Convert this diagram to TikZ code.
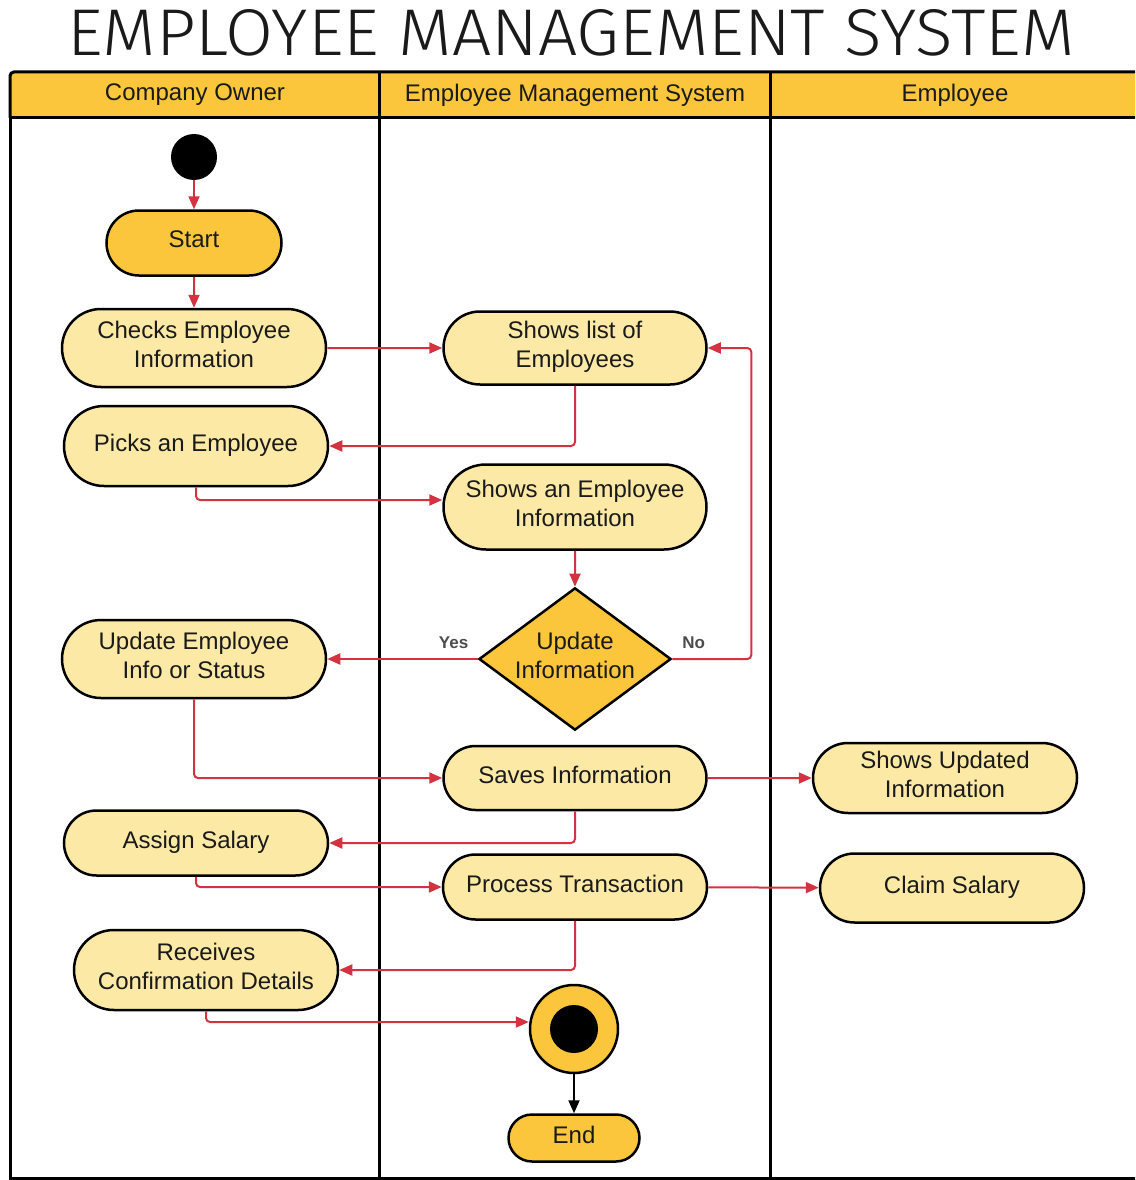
\documentclass[tikz,border=0pt]{standalone}
\usepackage{fontspec}
\setmainfont{Liberation Sans}
\IfFontExistsTF{Fira Sans Light}{\newfontfamily\titlefont{Fira Sans Light}}{%
  \IfFontExistsTF{Lato Light}{\newfontfamily\titlefont{Lato Light}}{\newfontfamily\titlefont{Liberation Sans}}}
\usetikzlibrary{shapes.misc,shapes.geometric,arrows.meta}
\definecolor{gold}{HTML}{FBC63B}
\definecolor{pale}{HTML}{FDE9A6}
\definecolor{flowred}{HTML}{D33341}
\definecolor{ink}{HTML}{1A1A1A}
\begin{document}
\begin{tikzpicture}[x=1pt,y=-1pt,
  txt/.style={font=\fontsize{24}{29}\selectfont, text=ink, align=center},
  act/.style={txt, rounded rectangle, draw=black, line width=2.5pt, fill=pale, inner sep=0pt, minimum width=264pt, text depth=7pt},
  goldact/.style={act, fill=gold},
  flow/.style={draw=flowred, line width=2pt, rounded corners=4pt, -{Triangle[length=13pt,width=11pt]}},
  blackflow/.style={draw=black, line width=2pt, -{Triangle[length=13pt,width=11pt]}},
  lbl/.style={font=\fontsize{17}{17}\selectfont\bfseries, text=black!70},
  lane/.style={draw=black, line width=3pt},
  head/.style={txt}
]
\clip (0,0) rectangle (1135,1180);
\useasboundingbox (0,0) rectangle (1135,1180);
% title
\node[text=ink, inner sep=0pt] (title) at (571,33) {\resizebox{1007pt}{46pt}{\titlefont EMPLOYEE MANAGEMENT SYSTEM}};
% swimlanes
\fill[gold] (10,72) rectangle (1150,118);
\draw[lane, rounded corners=4pt] (10,118) |- (1150,72);
\draw[lane] (10,118) -- (1150,118);
\draw[lane] (10,118) |- (1150,1178);
\draw[lane] (379,72) -- (379,1178);
\draw[lane] (770,72) -- (770,1178);
\node[head] (h1) at (195,95) {Company Owner};
\node[head] (h2) at (575,95) {Employee Management System};
\node[head] (h3) at (955,95) {Employee};
% nodes
\node[circle, fill=black, minimum size=46pt, inner sep=0pt] (init) at (194,157) {};
\node[goldact, minimum width=175pt, minimum height=65pt] (startbox) at (194,243) {Start};
\node[act, minimum height=78pt] (checks) at (194,348) {Checks Employee\\Information};
\node[act, minimum width=263pt, minimum height=73pt] (showlist) at (575,348) {Shows list of\\Employees};
\node[act, minimum height=80pt] (picks) at (196,446) {Picks an Employee};
\node[act, minimum width=263pt, minimum height=85pt] (showemp) at (575,507) {Shows an Employee\\Information};
\node[txt, diamond, aspect=1.35, draw=black, line width=2.5pt, fill=gold, inner sep=0pt, minimum width=192pt, minimum height=142pt, text depth=7pt] (dec) at (575,659) {Update\\Information};
\node[act, minimum height=78pt] (upd) at (194,659) {Update Employee\\Info or Status};
\node[act, minimum width=263pt, minimum height=64pt] (saves) at (575,778) {Saves Information};
\node[act, minimum height=70pt] (showupd) at (945,778) {Shows Updated\\Information};
\node[act, minimum height=65pt] (assign) at (196,843) {Assign Salary};
\node[act, minimum height=65pt] (proc) at (575,887) {Process Transaction};
\node[act, minimum height=69pt] (claim) at (952,888) {Claim Salary};
\node[act, minimum height=80pt] (recv) at (206,970) {Receives\\Confirmation Details};
\node[circle, draw=black, line width=2.5pt, fill=gold, minimum size=88pt, inner sep=0pt] (finalc) at (574,1029) {};
\node[circle, fill=black, minimum size=48pt, inner sep=0pt] (finaldot) at (574,1029) {};
\node[goldact, minimum width=131pt, minimum height=47pt] (endbox) at (574,1138) {End};
% connectors
\draw[flow] (init) -- (startbox);
\draw[flow] (startbox) -- (checks);
\draw[flow] (checks) -- (showlist);
\draw[flow] (showlist.south) |- (picks.east);
\draw[flow] (picks.south) |- ([yshift=7pt]showemp.west);
\draw[flow] (showemp) -- (dec);
\draw[flow] (dec.west) -- node[lbl, pos=0.16, anchor=south, yshift=6pt] {Yes} (upd.east);
\draw[flow] (dec.east) -- node[lbl, pos=0.27, anchor=south, yshift=6pt] {No} ++(79,0) |- (showlist.east);
\draw[flow] (upd.south) |- (saves.west);
\draw[flow] (saves) -- (showupd);
\draw[flow] (saves.south) |- (assign.east);
\draw[flow] (assign.south) |- (proc.west);
\draw[flow] (proc) -- (claim);
\draw[flow] (proc.south) |- (recv.east);
\draw[flow] (recv.south) |- ([yshift=7pt]finalc.west);
\draw[blackflow] (finalc) -- (endbox);
\end{tikzpicture}
\end{document}
